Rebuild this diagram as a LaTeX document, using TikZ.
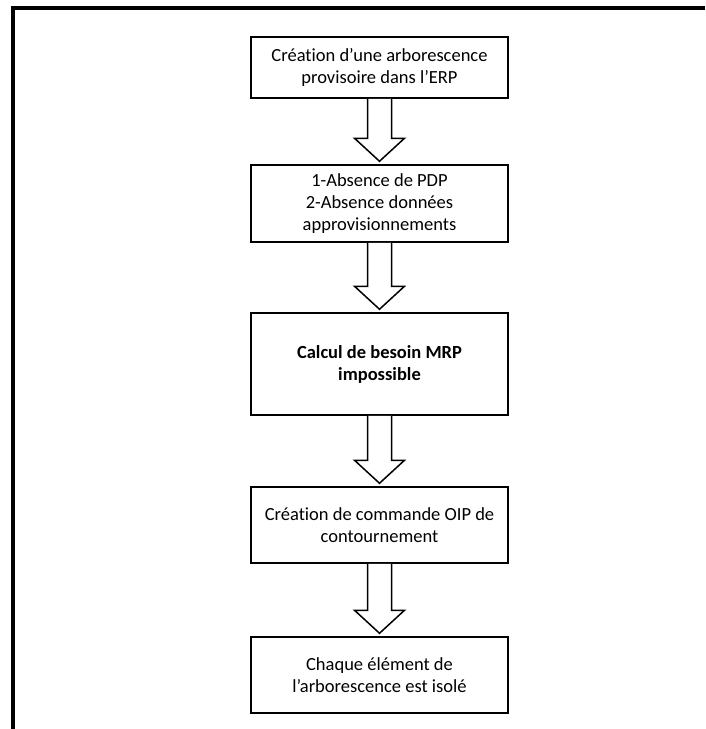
\documentclass[tikz,border=0pt]{standalone}
\usepackage{fontspec}
\setmainfont{Carlito}[RawFeature=-liga]
\begin{document}
\begin{tikzpicture}[x=1pt,y=-1pt,
  box/.style={draw, line width=1.5pt, fill=white, align=center, minimum width=257pt,
    inner sep=0pt, font=\fontsize{18.5}{22}\selectfont},
  arr/.style={draw, line width=1.5pt, line join=miter, fill=white}]
\useasboundingbox (0,0) rectangle (705,729);
\draw[line width=4pt, line join=miter] (705,8) -- (13,8) -- (13,729);
\node[box, minimum height=61pt] (b1) at (379.5,67.5) {Création d’une arborescence\\provisoire dans l’ERP};
\node[box, minimum height=77pt] (b2) at (379.5,203.5) {1-Absence de PDP\\2-Absence données\\approvisionnements};
\node[box, minimum height=102pt, font=\fontsize{18.5}{22}\selectfont\bfseries] (b3) at (379.5,364) {Calcul de besoin MRP\\impossible};
\node[box, minimum height=76pt] (b4) at (379.5,525) {Création de commande OIP de\\contournement};
\node[box, minimum height=76pt] (b5) at (379.5,675) {Chaque élément de\\l’arborescence est isolé};
\foreach \a/\b in {b1/b2,b2/b3,b3/b4,b4/b5}{
  \draw[arr] ([xshift=-12pt]\a.south) -- ([xshift=-12pt,yshift=26pt]\b.north)
    -- ([xshift=-25pt,yshift=26pt]\b.north) -- ([yshift=3pt]\b.north)
    -- ([xshift=25pt,yshift=26pt]\b.north) -- ([xshift=12pt,yshift=26pt]\b.north)
    -- ([xshift=12pt]\a.south);
}
\end{tikzpicture}
\end{document}
